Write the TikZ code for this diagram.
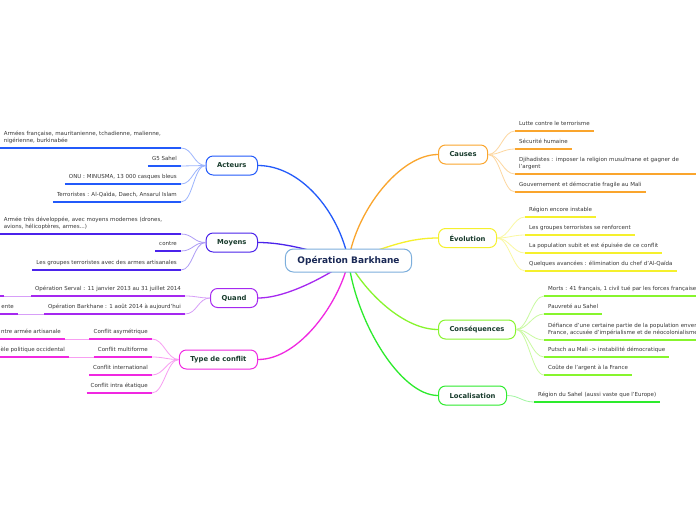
\documentclass[tikz,border=0pt]{standalone}
\usepackage{fontspec}
\setmainfont{DejaVu Sans}
\usetikzlibrary{backgrounds}

\definecolor{ctrline}{RGB}{125,175,220}
\definecolor{ctrtext}{RGB}{25,40,85}
\definecolor{boxtext}{RGB}{25,60,45}
\definecolor{leaftext}{RGB}{55,55,55}
\definecolor{acteurscol}{RGB}{35,90,250}
\definecolor{moyenscol}{RGB}{75,35,235}
\definecolor{quandcol}{RGB}{165,40,240}
\definecolor{typecol}{RGB}{240,40,225}
\definecolor{causescol}{RGB}{250,165,45}
\definecolor{evolcol}{RGB}{245,240,45}
\definecolor{conscol}{RGB}{135,245,45}
\definecolor{loccol}{RGB}{45,235,45}

\begin{document}
\begin{tikzpicture}[x=1pt,y=-1pt,
  centre/.style={draw=ctrline,line width=1pt,fill=white,rounded corners=8pt,minimum height=23pt,inner xsep=12pt,text=ctrtext,font=\bfseries\fontsize{9}{11}\selectfont},
  topic/.style={draw=#1,line width=1pt,fill=white,rounded corners=7pt,minimum height=19pt,inner xsep=11pt,text=boxtext,font=\bfseries\fontsize{6.8}{8}\selectfont},
  leafpar/.style={inner xsep=4pt,inner ysep=3.8pt,text=leaftext,font=\fontsize{5.5}{7}\selectfont},
  leaf/.style={leafpar,inner ysep=3pt,text depth=2pt},
  ul/.style={draw=#1,line width=1.5pt},
  twig/.style={draw=#1!45,line width=0.8pt},
  branch/.style={draw=#1,line width=1.3pt}]
	\useasboundingbox (0,0) rectangle (696,520);

	\node[centre] (ctr) at (348.5,260.5) {Opération Barkhane};
	\node[topic=acteurscol,anchor=east] (act) at (258,165.5) {Acteurs};
	\node[topic=moyenscol,anchor=east] (moy) at (258,242.5) {Moyens};
	\node[topic=quandcol,anchor=east] (qnd) at (258,298) {Quand};
	\node[topic=typecol,anchor=east] (typ) at (258,359.5) {Type de conflit};
	\node[topic=causescol,anchor=west] (cau) at (438,154.5) {Causes};
	\node[topic=evolcol,anchor=west] (evo) at (438,238) {Évolution};
	\node[topic=conscol,anchor=west] (csq) at (438,329.5) {Conséquences};
	\node[topic=loccol,anchor=west] (loc) at (438,395.5) {Localisation};

	% left side
	\node[leafpar,anchor=south east,align=left,text width=173pt] (a1) at (181,148) {Armées française, mauritanienne, tchadienne, malienne,\\nigérienne, burkinabée};
	\node[leaf,anchor=south east] (a2) at (181,166) {G5 Sahel};
	\node[leaf,anchor=south east] (a3) at (181,184) {ONU : MINUSMA, 13 000 casques bleus};
	\node[leaf,anchor=south east] (a4) at (181,202) {Terroristes : Al-Qaïda, Daech, Ansarul Islam};
	\node[leafpar,anchor=south east,align=left,text width=173pt] (m1) at (181,234) {Armée très développée, avec moyens modernes (drones,\\avions, hélicoptères, armes...)};
	\node[leaf,anchor=south east] (m2) at (181,251) {contre};
	\node[leaf,anchor=south east] (m3) at (181,270) {Les groupes terroristes avec des armes artisanales};
	\node[leaf,anchor=south east] (q1) at (185,296) {Opération Serval : 11 janvier 2013 au 31 juillet 2014};
	\node[leaf,anchor=south east] (q2) at (185,314) {Opération Barkhane : 1 août 2014 à aujourd'hui};
	\coordinate (q1g) at (4,296);
	\node[leaf,anchor=south east] (q2g) at (18,314) {ente};
	\node[leaf,anchor=south east] (t1) at (152,339) {Conflit asymétrique};
	\node[leaf,anchor=south east] (t2) at (152,357) {Conflit multiforme};
	\node[leaf,anchor=south east] (t3) at (152,375) {Conflit international};
	\node[leaf,anchor=south east] (t4) at (152,393) {Conflit intra étatique};
	\node[leaf,anchor=south east] (t1g) at (65,339) {ntre armée artisanale};
	\node[leaf,anchor=south east] (t2g) at (69,357) {èle politique occidental};

	% right side
	\node[leaf,anchor=south west] (c1) at (515,131) {Lutte contre le terrorisme};
	\node[leaf,anchor=south west] (c2) at (515,149) {Sécurité humaine};
	\node[leafpar,anchor=south west,align=left,text width=185pt] (c3) at (515,174) {Djihadistes : imposer la religion musulmane et gagner de\\l'argent};
	\node[leaf,anchor=south west] (c4) at (515,192) {Gouvernement et démocratie fragile au Mali};
	\node[leaf,anchor=south west] (e1) at (525,217) {Région encore instable};
	\node[leaf,anchor=south west] (e2) at (525,235) {Les groupes terroristes se renforcent};
	\node[leaf,anchor=south west] (e3) at (525,253) {La population subit et est épuisée de ce conflit};
	\node[leaf,anchor=south west] (e4) at (525,271) {Quelques avancées : élimination du chef d'Al-Qaïda};
	\node[leaf,anchor=south west] (k1) at (544,296) {Morts : 41 français, 1 civil tué par les forces françaises};
	\node[leaf,anchor=south west] (k2) at (544,314) {Pauvreté au Sahel};
	\node[leafpar,anchor=south west,align=left,text width=185pt] (k3) at (544,340) {Défiance d'une certaine partie de la population envers la\\France, accusée d'impérialisme et de néocolonialisme};
	\node[leaf,anchor=south west] (k4) at (544,357) {Putsch au Mali -> instabilité démocratique};
	\node[leaf,anchor=south west] (k5) at (544,375) {Coûte de l'argent à la France};
	\node[leaf,anchor=south west] (l1) at (534,402) {Région du Sahel (aussi vaste que l'Europe)};

	\begin{scope}[on background layer]
	\fill[white] (0,0) rectangle (696,520);
	\draw[branch=acteurscol] (ctr.center) .. controls +(-10,-50) and +(42,0) .. (act.east);
	\draw[branch=moyenscol] (ctr.center) .. controls +(-38,-10) and +(27,0) .. (moy.east);
	\draw[branch=quandcol] (ctr.center) .. controls +(-13,10) and +(32,0) .. (qnd.east);
	\draw[branch=typecol] (ctr.center) .. controls +(-8,40) and +(42,0) .. (typ.east);
	\draw[branch=causescol] (ctr.center) .. controls +(8,-50) and +(-38,0) .. (cau.west);
	\draw[branch=evolcol] (ctr.center) .. controls +(42,-15) and +(-28,0) .. (evo.west);
	\draw[branch=conscol] (ctr.center) .. controls +(12,25) and +(-38,0) .. (csq.west);
	\draw[branch=loccol] (ctr.center) .. controls +(7,60) and +(-38,0) .. (loc.west);
	\end{scope}

	% twigs and underlines
	\foreach \n in {a1,a2,a3,a4} {
		\draw[twig=acteurscol] (act.west) .. controls +(-12,0) and +(12,0) .. (\n.south east);
		\draw[ul=acteurscol] (\n.south west) -- (\n.south east);
	}
	\foreach \n in {m1,m2,m3} {
		\draw[twig=moyenscol] (moy.west) .. controls +(-12,0) and +(12,0) .. (\n.south east);
		\draw[ul=moyenscol] (\n.south west) -- (\n.south east);
	}
	\foreach \n in {q1,q2} {
		\draw[twig=quandcol] (qnd.west) .. controls +(-12,0) and +(12,0) .. (\n.south east);
		\draw[ul=quandcol] (\n.south west) -- (\n.south east);
	}
	\draw[twig=quandcol] (q1.south west) -- (q1g);
	\draw[ul=quandcol] (q1g) -- ++(-10,0);
	\draw[twig=quandcol] (q2.south west) -- (q2g.south east);
	\draw[ul=quandcol] (q2g.south west) -- (q2g.south east);
	\foreach \n in {t1,t2,t3,t4} {
		\draw[twig=typecol] (typ.west) .. controls +(-12,0) and +(12,0) .. (\n.south east);
		\draw[ul=typecol] (\n.south west) -- (\n.south east);
	}
	\draw[twig=typecol] (t1.south west) -- (t1g.south east);
	\draw[twig=typecol] (t2.south west) -- (t2g.south east);
	\draw[ul=typecol] (t1g.south west) -- (t1g.south east);
	\draw[ul=typecol] (t2g.south west) -- (t2g.south east);
	\foreach \n in {c1,c2,c3,c4} {
		\draw[twig=causescol] (cau.east) .. controls +(12,0) and +(-12,0) .. (\n.south west);
		\draw[ul=causescol] (\n.south west) -- (\n.south east);
	}
	\foreach \n in {e1,e2,e3,e4} {
		\draw[twig=evolcol] (evo.east) .. controls +(12,0) and +(-12,0) .. (\n.south west);
		\draw[ul=evolcol] (\n.south west) -- (\n.south east);
	}
	\foreach \n in {k1,k2,k3,k4,k5} {
		\draw[twig=conscol] (csq.east) .. controls +(12,0) and +(-12,0) .. (\n.south west);
		\draw[ul=conscol] (\n.south west) -- (\n.south east);
	}
	\draw[twig=loccol] (loc.east) .. controls +(12,0) and +(-12,0) .. (l1.south west);
	\draw[ul=loccol] (l1.south west) -- (l1.south east);
\end{tikzpicture}
\end{document}
